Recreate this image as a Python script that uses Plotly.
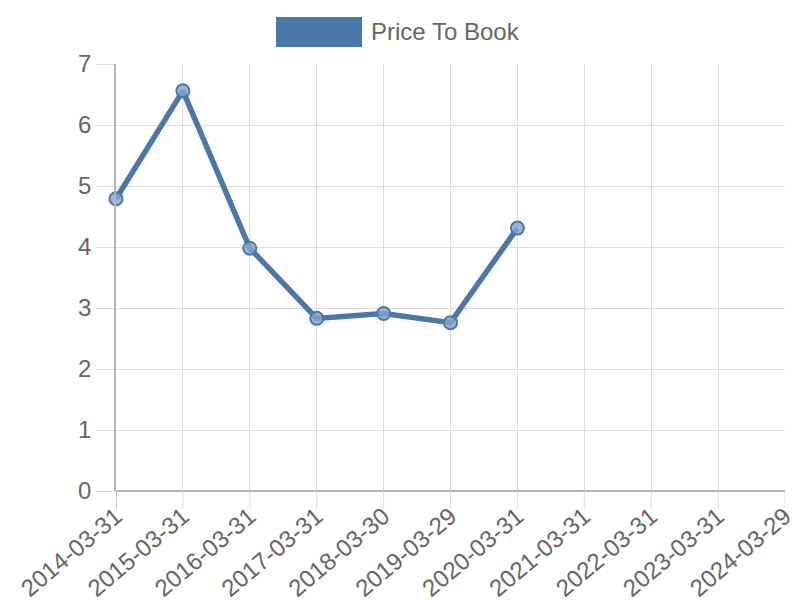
import plotly.graph_objects as go

categories = ["2014-03-31", "2015-03-31", "2016-03-31", "2017-03-31", "2018-03-30",
              "2019-03-29", "2020-03-31", "2021-03-31", "2022-03-31", "2023-03-31", "2024-03-29"]
price_to_book = [4.79, 6.56, 3.98, 2.83, 2.91, 2.76, 4.31, None, None, None, None]
y_ticks = [0, 1, 2, 3, 4, 5, 6, 7]
series_name = "Price To Book"

blue = "rgb(74,120,168)"
grid = "#dcdcdc"
axis_c = "#b3b3b3"
font = "Liberation Sans, Arial, sans-serif"

# page has an 8px body margin, so the figure is 792x592 placed at (8, 8)
fig = go.Figure()
fig.add_trace(go.Scatter(
    x=categories, y=price_to_book, mode="lines+markers", name=series_name,
    line=dict(color=blue, width=5.5),
    marker=dict(size=13, color="rgba(130,165,205,0.8)", line=dict(color=blue, width=2)),
    connectgaps=False, showlegend=False, cliponaxis=False,
))

plot_h = 427
# longer tick marks under the x axis (labels stay close, as in the reference)
tick_shapes = [dict(type="line", xref="x", yref="paper", x0=c, x1=c,
                    y0=0, y1=-18 / plot_h,
                    line=dict(color=axis_c if i == 0 else grid, width=1.5 if i == 0 else 1))
               for i, c in enumerate(categories)]

fig.update_layout(
    width=792, height=592,
    margin=dict(l=108, r=15, t=56, b=109),
    paper_bgcolor="white", plot_bgcolor="white",
    font=dict(family=font, size=24, color="#666666"),
    showlegend=False,
    xaxis=dict(
        type="category", range=[0, len(categories) - 1], automargin=False,
        tickangle=-40, showgrid=True, gridcolor=grid, gridwidth=1,
        ticks="outside", ticklen=1, tickcolor=grid,
        showline=False, zeroline=False, tickfont=dict(size=24, color="#666666"),
    ),
    yaxis=dict(
        range=[0, 7], tickvals=y_ticks, showgrid=True, gridcolor=grid,
        automargin=False,
        ticks="outside", ticklen=18, tickcolor=grid,
        showline=True, linecolor=axis_c, linewidth=1.5,
        zeroline=True, zerolinecolor=axis_c, zerolinewidth=1.5,
        tickfont=dict(size=24, color="#666666"),
    ),
    shapes=tick_shapes + [dict(type="rect", xref="paper", yref="paper",
                 x0=(276 - 116) / 669, x1=(362 - 116) / 669,
                 y0=(491 - 47) / plot_h, y1=(491 - 17) / plot_h,
                 fillcolor=blue, line=dict(width=0))],
    annotations=[dict(text=series_name, xref="paper", yref="paper",
                      x=(369 - 116) / 669, y=(491 - 32) / plot_h,
                      xanchor="left", yanchor="middle", showarrow=False,
                      font=dict(size=24, color="#666666", family=font))],
)

fig.write_html("out.html")
